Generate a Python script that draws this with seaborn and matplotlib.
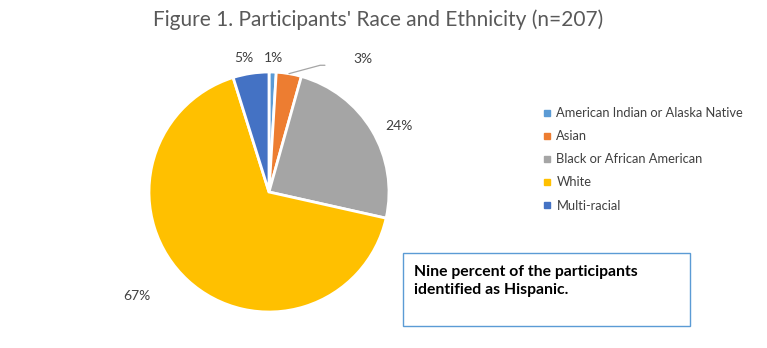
import numpy as np
import matplotlib
matplotlib.use("Agg")
import matplotlib.pyplot as plt
import seaborn as sns
from matplotlib.patches import Rectangle
from matplotlib.lines import Line2D

# ---- data ----
categories = ["American Indian or Alaska Native", "Asian",
              "Black or African American", "White", "Multi-racial"]
counts = [2, 7, 50, 138, 10]          # n = 207
percent_labels = ["1%", "3%", "24%", "67%", "5%"]
title = "Figure 1. Participants' Race and Ethnicity (n=207)"
note = "Nine percent of the participants\nidentified as Hispanic."

colors = ["#5B9BD5", "#ED7D31", "#A5A5A5", "#FFC000", "#4472C4"]

sns.set_theme(style="white")
plt.rcParams['font.family'] = ['Lato', 'DejaVu Sans']

W, H = 767, 348
fig = plt.figure(figsize=(W / 100, H / 100), dpi=100)

# pie axes: centre (269,192) px, radius 120 px
cx, cy, r = 269, 192, 120
half = 1.25 * r
ax = fig.add_axes([(cx - half) / W, (H - cy - half) / H, 2 * half / W, 2 * half / H])
wedges, _ = ax.pie(counts, colors=colors, startangle=90, counterclock=False,
                   wedgeprops=dict(edgecolor="white", linewidth=2))
ax.set_xlim(-1.25, 1.25)
ax.set_ylim(-1.25, 1.25)
ax.set_aspect("equal")
ax.axis("off")

label_color = "#404040"
# label distance and angular offsets per slice
dists = [1.12, None, 1.21, 1.40, 1.14]
dang = [0, 0, -4, -9, 2]
for i, w in enumerate(wedges):
    th = np.deg2rad((w.theta1 + w.theta2) / 2)
    if i == 1:
        # leader line label
        x0, y0 = np.cos(th), np.sin(th)
        ax.plot([x0, x0 + 0.26, x0 + 0.30], [y0, y0 + 0.07, y0 + 0.07],
                color="#A5A5A5", lw=0.9, clip_on=False)
        ax.text(x0 + 0.62, y0 + 0.12, percent_labels[i], ha="center", va="center",
                fontsize=10, color=label_color)
        continue
    t = th + np.deg2rad(dang[i])
    ax.text(dists[i] * np.cos(t), dists[i] * np.sin(t), percent_labels[i],
            ha="center", va="center", fontsize=10, color=label_color)

fig.text(378 / W, 1 - 20 / H, title, ha="center", va="center",
         fontsize=15, color="#595959")

handles = [Line2D([0], [0], marker="s", linestyle="none", markersize=4.5,
                  markerfacecolor=c, markeredgecolor=c) for c in colors]
fig.legend(handles, categories, loc="upper left",
           bbox_to_anchor=(537 / W, 1 - 102 / H), frameon=False,
           fontsize=9.3, labelcolor="#404040", handlelength=0.8,
           handletextpad=0.3, labelspacing=0.86, borderaxespad=0)

# note box
fig.patches.append(Rectangle((403 / W, 1 - 326 / H), 287 / W, 73 / H,
                             transform=fig.transFigure, facecolor="white",
                             edgecolor="#5B9BD5", linewidth=1))
fig.text(414 / W, 1 - 281 / H, note, ha="left", va="center", fontsize=11.3,
         fontweight="bold", color="black", linespacing=1.45)

fig.savefig("out.png", dpi=100)
